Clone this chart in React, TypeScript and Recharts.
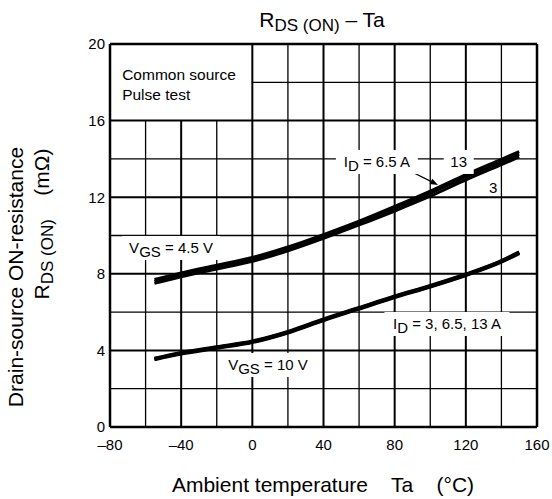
import React from 'react';
import { LineChart, Line, XAxis, YAxis, ReferenceLine, ReferenceDot } from 'recharts';

const temps = [-55, -40, -20, 0, 20, 40, 60, 80, 100, 120, 140, 150];
// VGS = 4.5 V band
const vgs45_id3 = [7.5, 7.85, 8.25, 8.65, 9.2, 9.85, 10.55, 11.28, 12.05, 12.9, 13.7, 14.1];
const vgs45_id65 = [7.6, 7.95, 8.35, 8.75, 9.3, 9.95, 10.65, 11.4, 12.2, 13.05, 13.85, 14.25];
const vgs45_id13 = [7.7, 8.05, 8.45, 8.85, 9.4, 10.05, 10.75, 11.52, 12.32, 13.18, 13.98, 14.38];
// VGS = 10 V band
const vgs10_id3 = [3.52, 3.82, 4.12, 4.42, 4.92, 5.57, 6.17, 6.77, 7.32, 7.92, 8.62, 9.07];
const vgs10_id65 = [3.55, 3.85, 4.15, 4.45, 4.95, 5.6, 6.2, 6.8, 7.35, 7.95, 8.65, 9.1];
const vgs10_id13 = [3.58, 3.88, 4.18, 4.48, 4.98, 5.63, 6.23, 6.83, 7.38, 7.98, 8.68, 9.13];

const xTicks = [-80, -40, 0, 40, 80, 120, 160];
const yTicks = [0, 4, 8, 12, 16, 20];
const xMinor = [-60, -40, -20, 0, 20, 40, 60, 80, 100, 120, 140];
const yMinor = [2, 4, 6, 8, 10, 12, 14, 16, 18];

const data = temps.map((t, i) => ({
  t,
  a3: vgs45_id3[i],
  a65: vgs45_id65[i],
  a13: vgs45_id13[i],
  b3: vgs10_id3[i],
  b65: vgs10_id65[i],
  b13: vgs10_id13[i],
}));

const FONT = '"Liberation Sans", Arial, sans-serif';

type Seg = { main: string; sub?: string; tail?: string };

function makeLabel(parts: Seg[], w: number, bg: boolean, dx = 0) {
  return (props: any) => {
    const { cx, cy } = props;
    return (
      <g>
        {bg && <rect x={cx - w / 2} y={cy - 12} width={w} height={24} fill="#fff" />}
        <text x={cx + dx} y={cy + 5} textAnchor="middle" fontFamily={FONT} fontSize={15} fill="#000">
          {parts.map((p, i) => (
            <React.Fragment key={i}>
              <tspan>{p.main}</tspan>
              {p.sub && <tspan dy={4}>{p.sub}</tspan>}
              {p.tail && <tspan dy={p.sub ? -4 : 0}>{p.tail}</tspan>}
            </React.Fragment>
          ))}
        </text>
      </g>
    );
  };
}

const Arrow = (props: any) => {
  const { x1, y1, x2, y2 } = props;
  const ang = Math.atan2(y2 - y1, x2 - x1);
  const L = 8, W = 3;
  const bx = x2 - L * Math.cos(ang), by = y2 - L * Math.sin(ang);
  const px = -Math.sin(ang) * W, py = Math.cos(ang) * W;
  return (
    <g>
      <line x1={x1} y1={y1} x2={bx} y2={by} stroke="#000" strokeWidth={1.2} />
      <polygon points={`${x2},${y2} ${bx + px},${by + py} ${bx - px},${by - py}`} fill="#000" />
    </g>
  );
};

export default function App() {
  return (
    <div style={{ position: 'absolute', left: 0, top: 0, width: 552, height: 499, background: '#fff' }}>
      <LineChart width={552} height={499} data={data} margin={{ top: 44, right: 15, bottom: 42, left: 80 }}>
        <XAxis
          dataKey="t"
          type="number"
          domain={[-80, 160]}
          ticks={xTicks}
          axisLine={false}
          tickLine={false}
          tickSize={0}
          tickMargin={12}
          height={30}
          tick={{ fontFamily: FONT, fontSize: 15, fill: '#000' }}
          tickFormatter={(v: number) => (v < 0 ? '\u2013' + Math.abs(v) : String(v))}
          allowDataOverflow
        />
        <YAxis
          type="number"
          domain={[0, 20]}
          ticks={yTicks}
          axisLine={false}
          tickLine={false}
          tickSize={0}
          tickMargin={5}
          width={30}
          tick={{ fontFamily: FONT, fontSize: 15, fill: '#000' }}
          allowDataOverflow
        />
        {xMinor.map((x) => (
          <ReferenceLine
            key={'vx' + x}
            segment={x < 0 ? [{ x, y: 0 }, { x, y: 16 }] : [{ x, y: 0 }, { x, y: 20 }]}
            stroke="#000"
            strokeWidth={x % 40 === 0 ? 2 : 1.3}
          />
        ))}
        {yMinor.map((y) => (
          <ReferenceLine
            key={'hy' + y}
            segment={y > 16 ? [{ x: 0, y }, { x: 160, y }] : [{ x: -80, y }, { x: 160, y }]}
            stroke="#000"
            strokeWidth={y % 4 === 0 ? 2 : 1.3}
          />
        ))}
        <ReferenceLine segment={[{ x: -80, y: 0 }, { x: -80, y: 20 }]} stroke="#000" strokeWidth={2.5} />
        <ReferenceLine segment={[{ x: 160, y: 0 }, { x: 160, y: 20 }]} stroke="#000" strokeWidth={2.5} />
        <ReferenceLine segment={[{ x: -80, y: 0 }, { x: 160, y: 0 }]} stroke="#000" strokeWidth={2.5} />
        <ReferenceLine segment={[{ x: -80, y: 20 }, { x: 160, y: 20 }]} stroke="#000" strokeWidth={2.5} />

        <ReferenceDot x={70} y={13.84} r={0} shape={makeLabel([{ main: 'I', sub: 'D', tail: ' = 6.5 A' }], 82, true)} />
        <ReferenceDot x={116} y={13.84} r={0} shape={makeLabel([{ main: '13' }], 30, true)} />
        <ReferenceDot x={135.3} y={12.48} r={0} shape={makeLabel([{ main: '3' }], 12, false)} />
        <ReferenceDot x={-45.7} y={9.35} r={0} shape={makeLabel([{ main: 'V', sub: 'GS', tail: ' = 4.5 V' }], 98, true)} />
        <ReferenceDot x={8.8} y={3.24} r={0} shape={makeLabel([{ main: 'V', sub: 'GS', tail: ' = 10 V' }], 92, true)} />
        <ReferenceDot x={109.4} y={5.38} r={0} shape={makeLabel([{ main: 'I', sub: 'D', tail: ' = 3, 6.5, 13 A' }], 125, true)} />
        <ReferenceDot x={-40} y={18} r={0} shape={(p: any) => (
          <g>
            <text x={p.cx - 59} y={p.cy - 2} fontFamily={FONT} fontSize={15.5} fill="#000">Common source</text>
            <text x={p.cx - 59} y={p.cy + 18} fontFamily={FONT} fontSize={15.5} fill="#000">Pulse test</text>
          </g>
        )} />
        <ReferenceLine segment={[{ x: 88.6, y: 13.37 }, { x: 104.4, y: 12.64 }]} shape={Arrow} />

        <Line dataKey="a3" type="monotone" stroke="#000" strokeWidth={3} dot={false} isAnimationActive={false} />
        <Line dataKey="a65" type="monotone" stroke="#000" strokeWidth={3} dot={false} isAnimationActive={false} />
        <Line dataKey="a13" type="monotone" stroke="#000" strokeWidth={3} dot={false} isAnimationActive={false} />
        <Line dataKey="b3" type="monotone" stroke="#000" strokeWidth={3.5} dot={false} isAnimationActive={false} />
        <Line dataKey="b65" type="monotone" stroke="#000" strokeWidth={3.5} dot={false} isAnimationActive={false} />
        <Line dataKey="b13" type="monotone" stroke="#000" strokeWidth={3.5} dot={false} isAnimationActive={false} />
      </LineChart>
      <svg width={552} height={499} style={{ position: 'absolute', left: 0, top: 0, pointerEvents: 'none' }}>
        <text x={322} y={27} textAnchor="middle" fontFamily={FONT} fontSize={21} fill="#000">
          <tspan>R</tspan>
          <tspan dy={4} fontSize={17}>DS (ON)</tspan>
          <tspan dy={-4}> – Ta</tspan>
        </text>
        <text x={323} y={492} textAnchor="middle" fontFamily={FONT} fontSize={21} fill="#000" style={{ whiteSpace: 'pre' }}>
          {'Ambient temperature    Ta    (\u00B0C)'}
        </text>
        <text transform="translate(23,277) rotate(-90)" textAnchor="middle" fontFamily={FONT} fontSize={21} fill="#000">
          Drain-source ON-resistance
        </text>
        <text transform="translate(49,224) rotate(-90)" textAnchor="middle" fontFamily={FONT} fontSize={21} fill="#000" style={{ whiteSpace: 'pre' }}>
          <tspan>R</tspan>
          <tspan dy={4} fontSize={17}>DS (ON)</tspan>
          <tspan dy={-4}>{'    (m\u03A9)'}</tspan>
        </text>
      </svg>
    </div>
  );
}
